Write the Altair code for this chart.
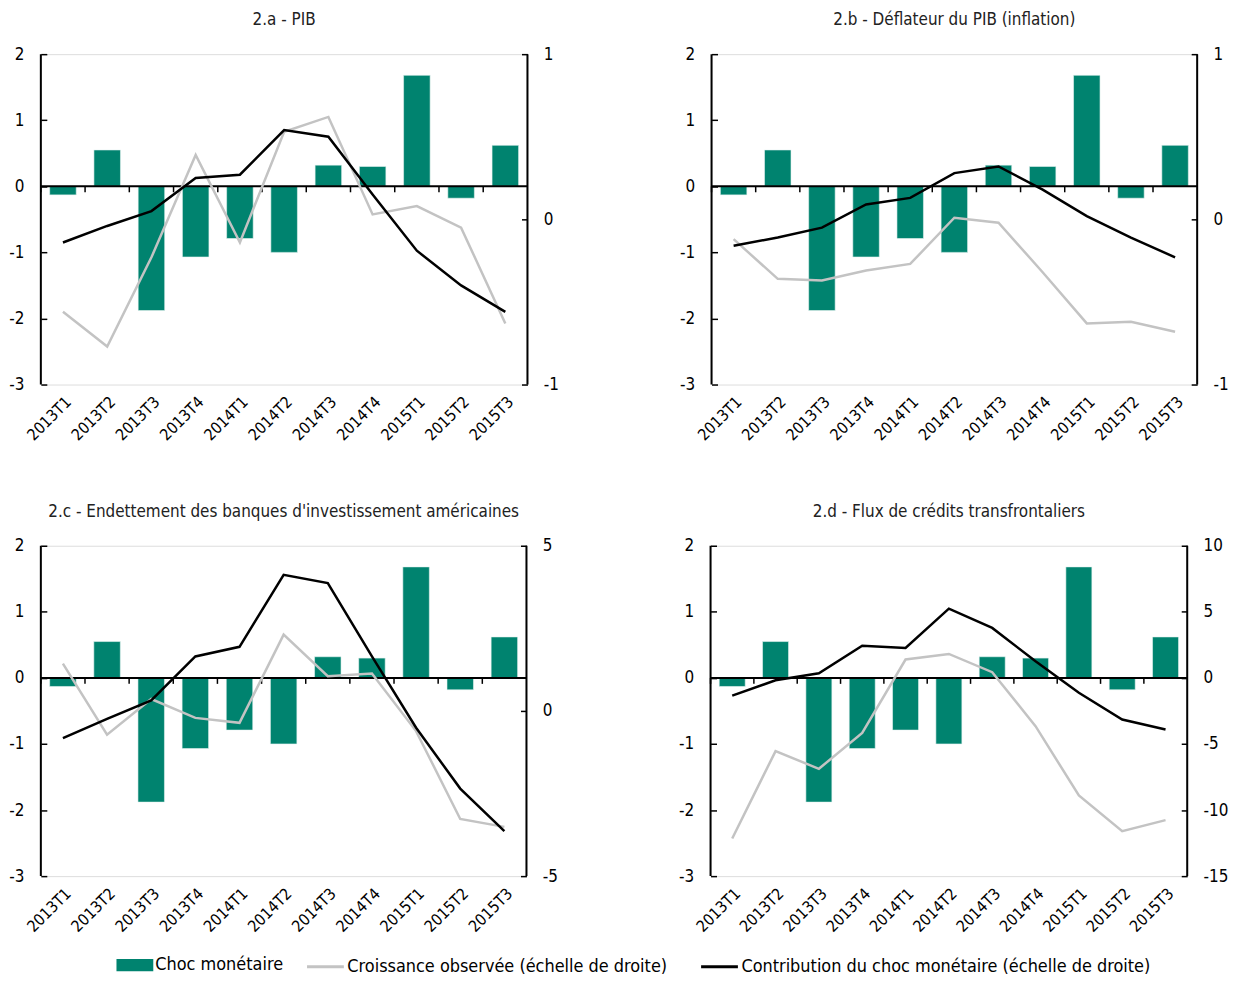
import altair as alt
import pandas as pd

categories = ["2013T1", "2013T2", "2013T3", "2013T4", "2014T1", "2014T2",
              "2014T3", "2014T4", "2015T1", "2015T2", "2015T3"]
shock = [-0.13, 0.55, -1.88, -1.07, -0.79, -1.00, 0.32, 0.30, 1.68, -0.18, 0.62]

# 2.a PIB
pib_obs = [-0.56, -0.77, -0.23, 0.39, -0.14, 0.53, 0.62, 0.03, 0.08, -0.05, -0.63]
pib_con = [-0.14, -0.04, 0.05, 0.25, 0.27, 0.54, 0.50, 0.15, -0.19, -0.40, -0.56]
# 2.b Deflateur
def_obs = [-0.12, -0.36, -0.37, -0.31, -0.27, 0.01, -0.02, -0.32, -0.63, -0.62, -0.68]
def_con = [-0.16, -0.11, -0.05, 0.09, 0.13, 0.28, 0.32, 0.18, 0.02, -0.11, -0.23]
# 2.c Endettement
end_obs = [1.43, -0.72, 0.36, -0.21, -0.36, 2.31, 1.05, 1.13, -0.61, -3.27, -3.51]
end_con = [-0.82, -0.24, 0.32, 1.65, 1.94, 4.12, 3.87, 1.65, -0.51, -2.35, -3.64]
# 2.d Flux de credits
flux_obs = [-12.15, -5.54, -6.88, -4.16, 1.39, 1.81, 0.43, -3.65, -8.90, -11.60, -10.76]
flux_con = [-1.34, -0.18, 0.35, 2.44, 2.27, 5.24, 3.78, 1.26, -1.13, -3.15, -3.91]

titles = ["2.a - PIB", "2.b - Déflateur du PIB (inflation)",
          "2.c - Endettement des banques d'investissement américaines",
          "2.d - Flux de crédits transfrontaliers"]
left_ticks = [-3, -2, -1, 0, 1, 2]
right_ticks = [[-1, 0, 1], [-1, 0, 1], [-5, 0, 5], [-15, -10, -5, 0, 5, 10]]

LAB_BAR = "Choc monétaire"
LAB_OBS = "Croissance observée (échelle de droite)"
LAB_CON = "Contribution du choc monétaire (échelle de droite)"

TEAL = "#00836F"
GRAY = "#C3C3C3"
FONT = "'Liberation Sans Narrow', 'Arial Narrow', 'DejaVu Sans Condensed', sans-serif"
H = 332
MINUS = "datum.value < 0 ? '-' + abs(datum.value) : '' + datum.value"
LEG_Y = 906
SYM = 342  # legend symbol area (box ~18.5px); the paths below draw 37px wide


def panel(title, obs, con, rticks, W):
    step = W / len(categories)
    bars_df = pd.DataFrame({"cat": categories, "val": shock, "s": LAB_BAR})
    obs_df = pd.DataFrame({"cat": categories, "val": obs, "s": LAB_OBS})
    con_df = pd.DataFrame({"cat": categories, "val": con, "s": LAB_CON})
    frame_df = pd.DataFrame({"k": [0]})

    xscale = alt.Scale(paddingInner=0.4, paddingOuter=0.2)
    x_enc = alt.X("cat:N", sort=categories, scale=xscale,
                  axis=alt.Axis(title=None, labelAngle=-45, domain=False, ticks=False,
                                labelPadding=9, labelFontSize=16, labelFont=FONT,
                                labelColor="black", grid=False))

    stroke_scale = alt.Scale(domain=[LAB_OBS, LAB_CON], range=[GRAY, "black"])
    stroke_legend = alt.Legend(title=None, symbolType="M-2,0L2,0", symbolSize=SYM,
                               symbolStrokeWidth=3, orient="none", direction="horizontal",
                               legendX=275, legendY=LEG_Y, padding=0,
                               labelFont=FONT, labelFontSize=18, labelColor="black",
                               labelLimit=0, columnPadding=27, labelOffset=11)

    yleft = alt.Y("val:Q", scale=alt.Scale(domain=[-3, 2], nice=False, zero=False),
                  axis=alt.Axis(title=None, values=left_ticks, domain=False, offset=-6,
                                tickSize=6, tickWidth=1.5, tickColor="black", grid=False,
                                labelPadding=17, labelFontSize=17, labelFont=FONT,
                                labelColor="black", labelExpr=MINUS))
    bars = alt.Chart(bars_df).mark_bar(stroke="#e8f3f1", strokeWidth=0.6).encode(
        x=x_enc, y=yleft,
        color=alt.Color("s:N", scale=alt.Scale(domain=[LAB_BAR], range=[TEAL]),
                        legend=alt.Legend(title=None,
                                          symbolType="M-2,-0.667L2,-0.667L2,0.667L-2,0.667Z",
                                          symbolSize=SYM, symbolStrokeWidth=0,
                                          orient="none", direction="horizontal",
                                          legendX=85, legendY=LEG_Y, padding=0,
                                          labelFont=FONT, labelFontSize=18,
                                          labelColor="black", labelLimit=0, labelOffset=11)),
    )
    zero_rule = alt.Chart(frame_df).mark_rule(color="black", strokeWidth=2).encode(
        y=alt.datum(0))
    zero_ticks = alt.Chart(bars_df).mark_tick(
        orient="vertical", size=6, thickness=1.5, yOffset=3, xOffset=-step / 2,
        color="black", opacity=1).encode(x=alt.X("cat:N", sort=categories), y=alt.datum(0))
    left = alt.layer(bars, zero_rule, zero_ticks)

    line_y = alt.Y("val:Q", scale=alt.Scale(domain=[rticks[0], rticks[-1]], nice=False, zero=False),
                   axis=alt.Axis(title=None, orient="right", values=rticks, domain=False,
                                 offset=-6, tickSize=6, tickWidth=1.5, tickColor="black",
                                 grid=False, labelPadding=16, labelFontSize=17,
                                 labelFont=FONT, labelColor="black", labelExpr=MINUS))
    gray_line = alt.Chart(obs_df).mark_line(strokeWidth=2.5).encode(
        x=alt.X("cat:N", sort=categories), y=line_y,
        stroke=alt.Stroke("s:N", scale=stroke_scale, legend=stroke_legend))
    black_line = alt.Chart(con_df).mark_line(strokeWidth=2.5).encode(
        x=alt.X("cat:N", sort=categories), y=line_y,
        stroke=alt.Stroke("s:N", scale=stroke_scale, legend=stroke_legend))
    lines = alt.layer(gray_line, black_line)

    left_rule = alt.Chart(frame_df).mark_rule(color="black", strokeWidth=2).encode(
        x=alt.value(0), y=alt.value(0), y2=alt.value(H))
    right_rule = alt.Chart(frame_df).mark_rule(color="black", strokeWidth=2).encode(
        x=alt.value(W), y=alt.value(0), y2=alt.value(H))

    return alt.layer(left, lines, left_rule, right_rule).resolve_scale(
        y="independent").properties(
        width=W, height=H,
        title=alt.TitleParams(title, font=FONT, fontSize=17, fontWeight="normal",
                              color="#222222", anchor="middle", offset=16))


p1 = panel(titles[0], pib_obs, pib_con, right_ticks[0], 489)
p2 = panel(titles[1], def_obs, def_con, right_ticks[1], 488)
p3 = panel(titles[2], end_obs, end_con, right_ticks[2], 488)
p4 = panel(titles[3], flux_obs, flux_con, right_ticks[3], 479)

chart = alt.vconcat(
    alt.hconcat(p1, p2, spacing=120),
    alt.hconcat(p3, p4, spacing=120),
    spacing=58,
).configure_view(stroke=None).configure(
    font=FONT, padding={"top": 0, "left": 0, "right": 0, "bottom": 0})

chart.save("out.html", embed_options={"renderer": "svg", "actions": False})
